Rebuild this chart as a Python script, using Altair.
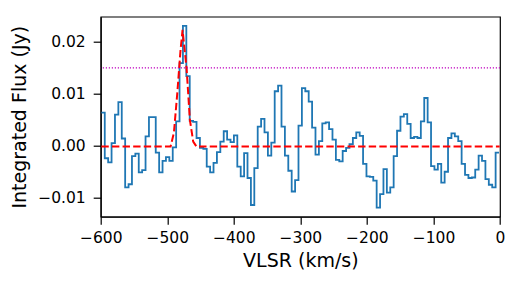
import altair as alt
import pandas as pd

# --- data ---
v_start = -599.0          # left edge of first channel (km/s)
chan_width = 5.107        # channel width (km/s)
flux = [
    0.0064, -0.0024, -0.0032, 0.0005, 0.0060, 0.0084, 0.0014, -0.0080, -0.0074, -0.0020,
    -0.0015, -0.0051, -0.0047, 0.0018, 0.0055, 0.0055, -0.0013, -0.0051, -0.0029, -0.0022,
    -0.0029, -0.0003, 0.0047, 0.0159, 0.0231, 0.0134, 0.0048, 0.0046, 0.0015, -0.0004,
    -0.0006, -0.0040, -0.0051, -0.0033, -0.0012, 0.0008, 0.0028, 0.0012, 0.0007, 0.0020,
    -0.0040, -0.0059, -0.0014, -0.0062, -0.0114, -0.0043, 0.0037, 0.0052, 0.0026, -0.0019,
    0.0006, 0.0105, 0.0116, 0.0037, -0.0019, -0.0048, -0.0088, -0.0066, 0.0039, 0.0111,
    0.0105, 0.0085, 0.0035, -0.0017, 0.0009, 0.0043, 0.0045, 0.0032, 0.0012, -0.0027,
    -0.0030, -0.0010, -0.0004, 0.0003, 0.0015, 0.0026, 0.0019, -0.0035, -0.0059, -0.0060,
    -0.0067, -0.0119, -0.0093, -0.0045, -0.0090, -0.0080, -0.0020, 0.0029, 0.0056, 0.0061,
    0.0042, 0.0015, 0.0017, 0.0015, 0.0047, 0.0092, 0.0045, -0.0039, -0.0046, -0.0035,
    -0.0071, -0.0050, 0.0015, 0.0024, 0.0018, 0.0009, -0.0035, -0.0056, -0.0062, -0.0061,
    -0.0046, -0.0019, -0.0029, -0.0064, -0.0075, -0.0080, -0.0013,
]
fit_v = [-599, -495, -490, -485, -480, -477, -471, -466, -461, -456, -0.5]
fit_flux = [-0.00015, -0.00015, 0.0025, 0.0100, 0.0185, 0.0223, 0.0150, 0.0050, 0.0008, -0.00015, -0.00015]
threshold = 0.015

x_ticks = [-600, -500, -400, -300, -200, -100, 0]
y_ticks = [-0.01, 0.0, 0.01, 0.02]

# --- tables ---
vel = [v_start + chan_width * i for i in range(len(flux) + 1)]
spec_df = pd.DataFrame({"v": vel, "f": flux + [flux[-1]]})
fit_df = pd.DataFrame({"v": fit_v, "f": fit_flux})

FONT = "DejaVu Sans"
W, H = 399.3, 200

xscale = alt.Scale(domain=[-600, 0], nice=False, zero=False)
yscale = alt.Scale(domain=[-0.01365, 0.02485], nice=False, zero=False)

xaxis = alt.Axis(
    values=x_ticks, format="d", title="VLSR (km/s)", grid=False,
    labelFont=FONT, labelFontSize=15.5, labelColor="black",
    labelBaseline="alphabetic", labelPadding=18.5, labelFlush=False,
    tickSize=7.5, tickColor="black", tickWidth=1.2,
    domainColor="black", domainWidth=1.2,
    titleFont=FONT, titleFontSize=19, titleFontWeight="normal", titleColor="black",
    titleX=W / 2, titleY=50, titleBaseline="alphabetic", titleAlign="center",
)
yaxis = alt.Axis(
    values=y_ticks, format=".2f", title="Integrated Flux (Jy)", grid=False,
    labelFont=FONT, labelFontSize=15.5, labelColor="black", labelPadding=8,
    labelFlush=False,
    tickSize=7.5, tickColor="black", tickWidth=1.2,
    domainColor="black", domainWidth=1.2,
    titleFont=FONT, titleFontSize=19, titleFontWeight="normal", titleColor="black",
    titleX=-75.7, titleY=H / 2, titleBaseline="alphabetic", titleAlign="center",
    titleAngle=270,
)

spectrum = alt.Chart(spec_df).mark_line(
    interpolate="step-after", color="#1f77b4", strokeWidth=1.8, clip=True
).encode(
    x=alt.X("v:Q", scale=xscale, axis=xaxis),
    y=alt.Y("f:Q", scale=yscale, axis=yaxis),
)

fit = alt.Chart(fit_df).mark_line(
    color="red", strokeWidth=2, strokeDash=[7.4, 3.2], clip=True
).encode(
    x=alt.X("v:Q", scale=xscale),
    y=alt.Y("f:Q", scale=yscale),
)

thr = alt.Chart(pd.DataFrame({"t": [threshold]})).mark_rule(
    color="#bf00bf", strokeWidth=1.1, strokeDash=[1.2, 1.8]
).encode(y=alt.Y("t:Q", scale=yscale))

chart = alt.layer(spectrum, fit, thr).properties(
    width=W, height=H,
    background="white",
    padding={"left": 92.7, "top": 8.7, "right": 8, "bottom": 56.3},
    autosize=alt.AutoSizeParams(type="none"),
).configure_view(stroke="black", strokeWidth=1.2)

chart.save("out.html", embed_options={"renderer": "svg", "actions": False})
